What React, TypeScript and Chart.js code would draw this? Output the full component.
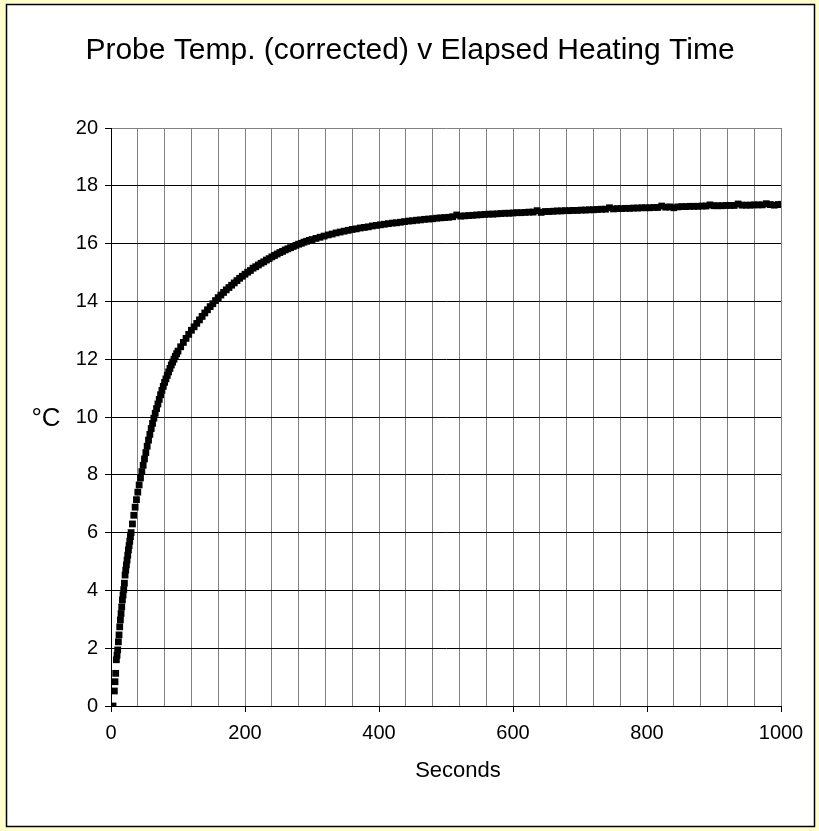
import React, { useEffect, useRef } from 'react';
import { Chart, registerables } from 'chart.js';

Chart.register(...registerables);

const TITLE = 'Probe Temp. (corrected) v Elapsed Heating Time';
const X_TITLE = 'Seconds';
const Y_TITLE = '°C';

const X_MIN = 0;
const X_MAX = 1000;
const X_GRID_STEP = 40;
const X_LABEL_STEP = 200;
const Y_MIN = 0;
const Y_MAX = 20;
const Y_STEP = 2;

// Elapsed heating time (s)
const TIMES = [
  3, 5, 6, 7, 8, 9, 10, 11, 12, 13, 14, 15, 16, 17, 18, 19, 20, 21, 22, 23, 24, 25, 26, 27, 28, 29, 30,
  32, 34, 36, 38, 40, 42, 44, 46, 48, 50, 52, 54, 56, 58, 60, 62, 64, 66, 68, 70, 72, 74, 76, 78, 80,
  82, 84, 86, 88, 90, 92, 94, 96, 98, 100,
  104, 108, 112, 116, 120, 124, 128, 132, 136, 140, 144, 148, 152, 156, 160, 164, 168, 172, 176, 180,
  184, 188, 192, 196, 200, 204, 208, 212, 216, 220, 224, 228, 232, 236, 240, 244, 248, 252, 256, 260,
  264, 268, 272, 276, 280, 284, 288, 292, 296, 300,
  306, 312, 318, 324, 330, 336, 342, 348, 354, 360, 366, 372, 378, 384, 390, 396, 402, 408, 414, 420,
  426, 432, 438, 444, 450, 456, 462, 468, 474, 480, 486, 492, 498, 504, 510, 516, 522, 528, 534, 540,
  546, 552, 558, 564, 570, 576, 582, 588, 594, 600, 606, 612, 618, 624, 630, 636, 642, 648, 654, 660,
  666, 672, 678, 684, 690, 696, 702, 708, 714, 720, 726, 732, 738, 744, 750, 756, 762, 768, 774, 780,
  786, 792, 798, 804, 810, 816, 822, 828, 834, 840, 846, 852, 858, 864, 870, 876, 882, 888, 894, 900,
  906, 912, 918, 924, 930, 936, 942, 948, 954, 960, 966, 972, 978, 984, 990, 996, 1000,
];

// Probe temperature, corrected (°C)
const TEMPS = [
  0.0, 0.52, 0.84, 1.13, 1.6, 1.76, 1.94, 2.22, 2.46, 2.74, 2.98, 3.2, 3.43, 3.67, 3.84, 4.03, 4.25, 4.53, 4.7, 4.88, 5.05, 5.22, 5.4, 5.55, 5.7, 5.86, 6.0,
  6.3, 6.6, 6.88, 7.14, 7.4, 7.65, 7.89, 8.11, 8.33, 8.55, 8.77, 8.99, 9.2, 9.4, 9.6, 9.78, 9.96, 10.13, 10.29, 10.45, 10.61, 10.77, 10.92, 11.06, 11.2,
  11.32, 11.44, 11.56, 11.68, 11.8, 11.9, 12.0, 12.1, 12.19, 12.28,
  12.43, 12.58, 12.72, 12.86, 13.0, 13.12, 13.24, 13.36, 13.48, 13.6, 13.71, 13.82, 13.92, 14.03, 14.13, 14.22, 14.31, 14.4, 14.48, 14.56,
  14.64, 14.72, 14.8, 14.87, 14.94, 15.01, 15.07, 15.15, 15.2, 15.26, 15.32, 15.37, 15.43, 15.48, 15.54, 15.59, 15.64, 15.69, 15.73, 15.78,
  15.82, 15.86, 15.9, 15.94, 15.98, 16.01, 16.05, 16.08, 16.11, 16.14,
  16.18, 16.22, 16.26, 16.3, 16.33, 16.37, 16.4, 16.43, 16.46, 16.49, 16.51, 16.54, 16.56, 16.58, 16.61, 16.63, 16.65, 16.67, 16.69, 16.71,
  16.72, 16.74, 16.76, 16.78, 16.79, 16.81, 16.82, 16.84, 16.85, 16.86, 16.88, 16.89, 16.9, 16.91, 16.93, 16.99, 16.95, 16.96, 16.97, 16.98,
  16.99, 17.0, 17.01, 17.02, 17.02, 17.03, 17.04, 17.05, 17.05, 17.06, 17.07, 17.07, 17.08, 17.09, 17.09, 17.14, 17.08, 17.11, 17.11, 17.12,
  17.13, 17.13, 17.14, 17.14, 17.15, 17.15, 17.16, 17.16, 17.17, 17.17, 17.18, 17.19, 17.19, 17.24, 17.2, 17.21, 17.21, 17.22, 17.22, 17.23,
  17.23, 17.24, 17.24, 17.24, 17.25, 17.25, 17.3, 17.26, 17.27, 17.24, 17.27, 17.28, 17.28, 17.29, 17.29, 17.29, 17.3, 17.3, 17.34, 17.31,
  17.31, 17.31, 17.32, 17.32, 17.32, 17.37, 17.33, 17.33, 17.33, 17.34, 17.34, 17.34, 17.38, 17.35, 17.33, 17.35, 17.36,
];

const FONT = '"Liberation Sans", Arial, Helvetica, sans-serif';

export default function App() {
  const ref = useRef<HTMLCanvasElement>(null);

  useEffect(() => {
    document.body.style.margin = '0';
    const canvas = ref.current;
    if (!canvas) return;

    const framePlugin = {
      id: 'frame',
      beforeDraw(chart: any) {
        const { ctx, width, height } = chart;
        ctx.save();
        ctx.fillStyle = '#FFFFCC';
        ctx.fillRect(0, 0, width, height);
        ctx.fillStyle = '#FFFFFF';
        ctx.fillRect(6, 4, width - 10, height - 9);
        ctx.strokeStyle = '#000000';
        ctx.lineWidth = 1.5;
        ctx.strokeRect(6.5, 4.5, width - 11, height - 9);
        ctx.restore();
      },
    };

    const textPlugin = {
      id: 'texts',
      afterDraw(chart: any) {
        const { ctx, chartArea } = chart;
        ctx.save();
        ctx.fillStyle = '#000';
        ctx.textAlign = 'center';
        ctx.textBaseline = 'middle';
        ctx.font = `30px ${FONT}`;
        ctx.fillText(TITLE, 410, 51);
        ctx.font = `22px ${FONT}`;
        ctx.fillText(X_TITLE, 458, 771);
        ctx.font = `26px ${FONT}`;
        ctx.fillText(Y_TITLE, 46, (chartArea.top + chartArea.bottom) / 2 + 2);
        ctx.restore();
      },
    };

    const chart = new Chart(canvas, {
      type: 'scatter',
      data: {
        datasets: [
          {
            data: TIMES.map((t, i) => ({ x: t, y: TEMPS[i] })),
            pointStyle: 'rect',
            pointRadius: 4.8,
            pointHoverRadius: 4.8,
            backgroundColor: '#000',
            borderColor: '#000',
            borderWidth: 0,
            showLine: false,
          },
        ],
      },
      options: {
        responsive: false,
        animation: false,
        devicePixelRatio: 1,
        events: [],
        layout: { padding: { top: 128, right: 38, left: 0, bottom: 0 } },
        plugins: {
          legend: { display: false },
          tooltip: { enabled: false },
          title: { display: false },
        },
        scales: {
          x: {
            type: 'linear',
            min: X_MIN,
            max: X_MAX,
            ticks: {
              stepSize: X_GRID_STEP,
              autoSkip: false,
              maxRotation: 0,
              color: '#000',
              font: { family: FONT, size: 20 },
              padding: 9,
              callback: (v: any) => (Number(v) % X_LABEL_STEP === 0 ? String(v) : ''),
            },
            grid: {
              color: '#808080',
              lineWidth: 1,
              tickLength: 6,
              tickColor: (c: any) =>
                c.tick && c.tick.value % X_LABEL_STEP === 0 ? '#000' : 'rgba(0,0,0,0)',
            },
            border: { color: '#000', width: 1 },
            title: { display: false },
            afterFit: (s: any) => {
              s.height = 125;
            },
          },
          y: {
            type: 'linear',
            min: Y_MIN,
            max: Y_MAX,
            ticks: {
              stepSize: Y_STEP,
              color: '#000',
              font: { family: FONT, size: 20 },
              padding: 7,
            },
            grid: {
              color: (c: any) => (c.tick && c.tick.value === Y_MAX ? '#808080' : '#000'),
              lineWidth: 1,
              tickLength: 6,
              tickColor: '#000',
            },
            border: { color: '#000', width: 1 },
            afterFit: (s: any) => {
              s.width = 111;
            },
          },
        },
      },
      plugins: [framePlugin, textPlugin],
    });

    return () => chart.destroy();
  }, []);

  return <canvas ref={ref} width={819} height={831} style={{ display: 'block' }} />;
}
